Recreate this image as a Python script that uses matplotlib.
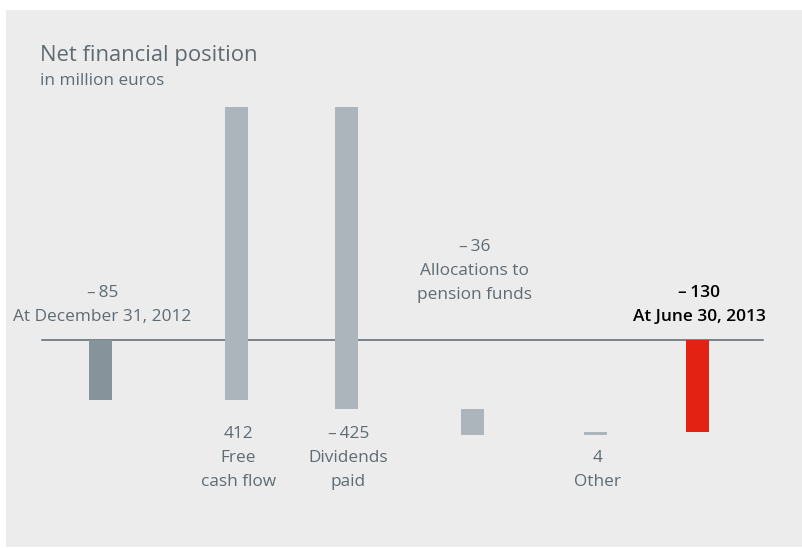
import matplotlib
matplotlib.use('Agg')
import matplotlib.pyplot as plt
from matplotlib.patches import Rectangle

# Data (million euros)
steps = ['At December 31, 2012', 'Free\ncash flow', 'Dividends\npaid',
         'Allocations to\npension funds', 'Other', 'At June 30, 2013']
values = [-85, 412, -425, -36, 4, -130]
value_labels = ['\u2013\u200985', '412', '\u2013\u2009425', '\u2013\u200936', '4', '\u2013\u2009130']

# layout (pixel positions of the bar centres, reference is 803x548)
x_pos = [100.5, 236.5, 346.5, 472.5, 595.5, 697.5]
bar_w = 23
colors = ['#87939b', '#adb5bc', '#adb5bc', '#adb5bc', '#adb5bc', '#e32213']
text_col = '#5f6b73'
# y of the value label for each step, the text lines follow below it
label_top = [293, 434, 434, 247, 458, 293]
line_gap = 23.8

W, H = 803, 548
fig = plt.figure(figsize=(W / 100, H / 100), dpi=100)
fig.patch.set_facecolor('white')
fig.patches.append(Rectangle((6 / W, 1 / H), 1, 1 - 11 / H, transform=fig.transFigure,
                             facecolor='#ececec', edgecolor='none', zorder=-5))

ax = fig.add_axes([0, 0, 1, 1])
ax.set_zorder(2)
ax.set_facecolor('none')
px_per_unit = 0.711
base_px = 339.5
ax.set_xlim(0, W)
ax.set_ylim(-(H - base_px) / px_per_unit, base_px / px_per_unit)
ax.axis('off')

# waterfall bars
bottoms = []
running = 0
for i, v in enumerate(values):
    if i == 0 or i == len(values) - 1:
        bottoms.append(0)
        running = v
    else:
        bottoms.append(running)
        running += v
ax.bar(x_pos, values, bottom=bottoms, width=bar_w, color=colors, zorder=2)
ax.plot([42, 763], [0, 0], color='#5a6670', lw=1.1, zorder=1)

fam = ['Open Sans', 'DejaVu Sans']


def ptext(x, y, s, **kw):
    fig.text(x / W, 1 - y / H, s, family=fam, **kw)


ptext(40, 55, 'Net financial position', fontsize=15.8, color=text_col, va='center')
ptext(40, 81, 'in million euros', fontsize=12.3, color=text_col, va='center')

for i in range(len(values)):
    last = i == len(values) - 1
    c = 'black' if last else text_col
    wgt = 'semibold' if last else 'normal'
    lines = [value_labels[i]] + steps[i].split('\n')
    for k, s in enumerate(lines):
        ptext(x_pos[i] + 2, label_top[i] + k * line_gap, s, fontsize=12.4,
              color=c, weight=wgt, ha='center', va='center')

fig.savefig('out.png', dpi=100)
